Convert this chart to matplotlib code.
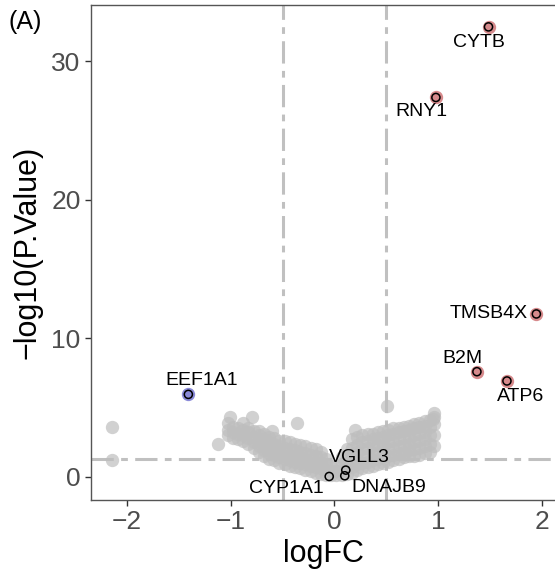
import matplotlib
matplotlib.use("Agg")
from matplotlib import pyplot as plt

plt.rcParams['font.family'] = ['Liberation Sans', 'DejaVu Sans']

# 背景基因 (灰色点): 每列一个 logFC, 列内若干 -log10(P)
bg_x = [-1.03, -0.98, -0.93, -0.88, -0.83, -0.78, -0.73, -0.68, -0.63, -0.58,
        -0.53, -0.48, -0.43, -0.38, -0.33, -0.28, -0.23, -0.18, -0.13, -0.08,
        -0.03, 0.02, 0.07, 0.12, 0.17, 0.22, 0.27, 0.32, 0.37, 0.42,
        0.47, 0.52, 0.57, 0.62, 0.67, 0.72, 0.77, 0.82, 0.87, 0.92, 0.96]
bg_y = [[3.0, 3.4, 3.9], [2.8, 3.2, 3.6], [2.7, 3.1, 3.5], [2.6, 3.0, 3.4],
        [2.4, 2.8, 3.2, 3.5], [2.1, 2.5, 2.9, 3.3], [1.8, 2.2, 2.6, 3.0, 3.3],
        [1.5, 1.9, 2.3, 2.7, 3.1], [1.3, 1.7, 2.1, 2.5, 2.9], [1.2, 1.6, 2.0, 2.4, 2.8],
        [1.0, 1.4, 1.8, 2.2, 2.6], [0.9, 1.3, 1.7, 2.1, 2.6], [0.8, 1.2, 1.6, 2.0, 2.5],
        [0.7, 1.1, 1.5, 1.9, 2.4], [0.6, 1.0, 1.4, 1.8, 2.3], [0.5, 0.9, 1.3, 1.7, 2.2],
        [0.4, 0.8, 1.2, 1.6, 2.1], [0.3, 0.7, 1.1, 1.5, 2.0], [0.2, 0.6, 1.0, 1.4, 1.8],
        [0.15, 0.5, 0.9, 1.3], [0.1, 0.4, 0.8], [0.1, 0.4, 0.8], [0.15, 0.5, 0.9, 1.4],
        [0.2, 0.6, 1.0, 1.5, 2.0], [0.3, 0.7, 1.1, 1.6, 2.1, 2.7], [0.5, 0.9, 1.3, 1.8, 2.3, 2.9],
        [0.6, 1.0, 1.5, 2.0, 2.5, 3.0], [0.7, 1.1, 1.6, 2.1, 2.6, 3.1], [0.8, 1.2, 1.7, 2.2, 2.7, 3.1],
        [0.9, 1.3, 1.8, 2.3, 2.8, 3.2], [1.0, 1.4, 1.9, 2.4, 2.9, 3.3], [1.1, 1.5, 2.0, 2.5, 3.0, 3.4],
        [1.2, 1.6, 2.1, 2.6, 3.1, 3.5], [1.3, 1.7, 2.2, 2.7, 3.2, 3.5], [1.4, 1.8, 2.3, 2.8, 3.3, 3.6],
        [1.5, 1.9, 2.4, 2.9, 3.4, 3.7], [1.5, 2.0, 2.5, 3.0, 3.5, 3.8], [1.6, 2.1, 2.6, 3.1, 3.6, 3.9],
        [1.7, 2.2, 2.7, 3.2, 3.7, 4.0], [1.8, 2.4, 3.0, 3.6, 4.1], [2.2, 3.0, 3.8, 4.3]]

# 离散的灰色点
out_x = [-2.15, -2.15, -1.12, -1.01, -0.80, -0.88, -0.36, 0.51, 0.96, 0.95, -0.60, 0.20]
out_y = [3.57, 1.20, 2.36, 4.34, 4.29, 3.86, 3.86, 5.13, 4.58, 4.20, 3.30, 3.40]

# 标注基因
genes = ["CYTB", "RNY1", "TMSB4X", "B2M", "ATP6", "EEF1A1", "VGLL3", "CYP1A1", "DNAJB9"]
gene_fc = [1.488, 0.98, 1.95, 1.376, 1.666, -1.41, 0.11, -0.05, 0.10]
gene_p = [32.5, 27.4, 11.76, 7.59, 6.92, 5.95, 0.48, 0.02, 0.07]
gene_grp = ["up", "up", "up", "up", "up", "down", "ns", "ns", "ns"]

fc_cut = 0.5
p_cut = 1.3

# 标签偏移 (像素)
lab_dx = [-10, -14, -9, -14, 14, 13, 14, -43, 44]
lab_dy = [-16, -14, 0, 13, -16, 14, 13, -12, -12]
lab_ha = ["center", "center", "right", "center", "center", "center", "center", "center", "center"]

grp_color = {"up": "#d68a8c", "down": "#8a8ad8", "ns": "#bebebe"}

fig = plt.figure(figsize=(5.55, 5.70), dpi=100)
ax = fig.add_axes([91 / 555, 70 / 570, 1 - 91 / 555, 495 / 570])

dash = (0, (7.3, 2.4, 2.2, 2.4))
ax.axvline(-fc_cut, color="#c0c0c0", lw=2.2, linestyle=dash, zorder=1)
ax.axvline(fc_cut, color="#c0c0c0", lw=2.2, linestyle=dash, zorder=1)
ax.axhline(p_cut, color="#c0c0c0", lw=2.2, linestyle=dash, zorder=1)

xs = []
ys = []
for x, col in zip(bg_x, bg_y):
    for y in col:
        xs.append(x)
        ys.append(y)
xs += out_x
ys += out_y
ax.scatter(xs, ys, s=92, color="#bebebe", alpha=0.7, linewidths=0, zorder=2)

for g, x, y, grp, dx, dy, ha in zip(genes, gene_fc, gene_p, gene_grp, lab_dx, lab_dy, lab_ha):
    if grp != "ns":
        ax.scatter([x], [y], s=92, color=grp_color[grp], linewidths=0, zorder=3)
    ax.scatter([x], [y], s=34, facecolors="none", edgecolors="black", linewidths=1.1, zorder=4)
    ax.annotate(g, (x, y), xytext=(dx, dy), textcoords="offset pixels",
                ha=ha, va="center", fontsize=14, color="black", zorder=5)

ax.set_xlim(-2.35, 2.13)
ax.set_ylim(-1.68, 34.08)
ax.set_xticks([-2, -1, 0, 1, 2])
ax.set_yticks([0, 10, 20, 30])
ax.set_xticklabels(["\u22122", "\u22121", "0", "1", "2"])
ax.tick_params(labelsize=19, labelcolor="#4d4d4d", color="#333333", length=4, width=1)
ax.spines["right"].set_visible(False)
for s in ["left", "bottom", "top"]:
    ax.spines[s].set_color("#555555")
    ax.spines[s].set_linewidth(1.0)
ax.set_xlabel("logFC", fontsize=22, labelpad=3)
ax.set_ylabel("\u2212log10(P.Value)", fontsize=22, labelpad=6)
fig.text(8 / 555, 1 - 22 / 570, "(A)", fontsize=18, va="center", ha="left")

plt.savefig("out.png", dpi=100)
